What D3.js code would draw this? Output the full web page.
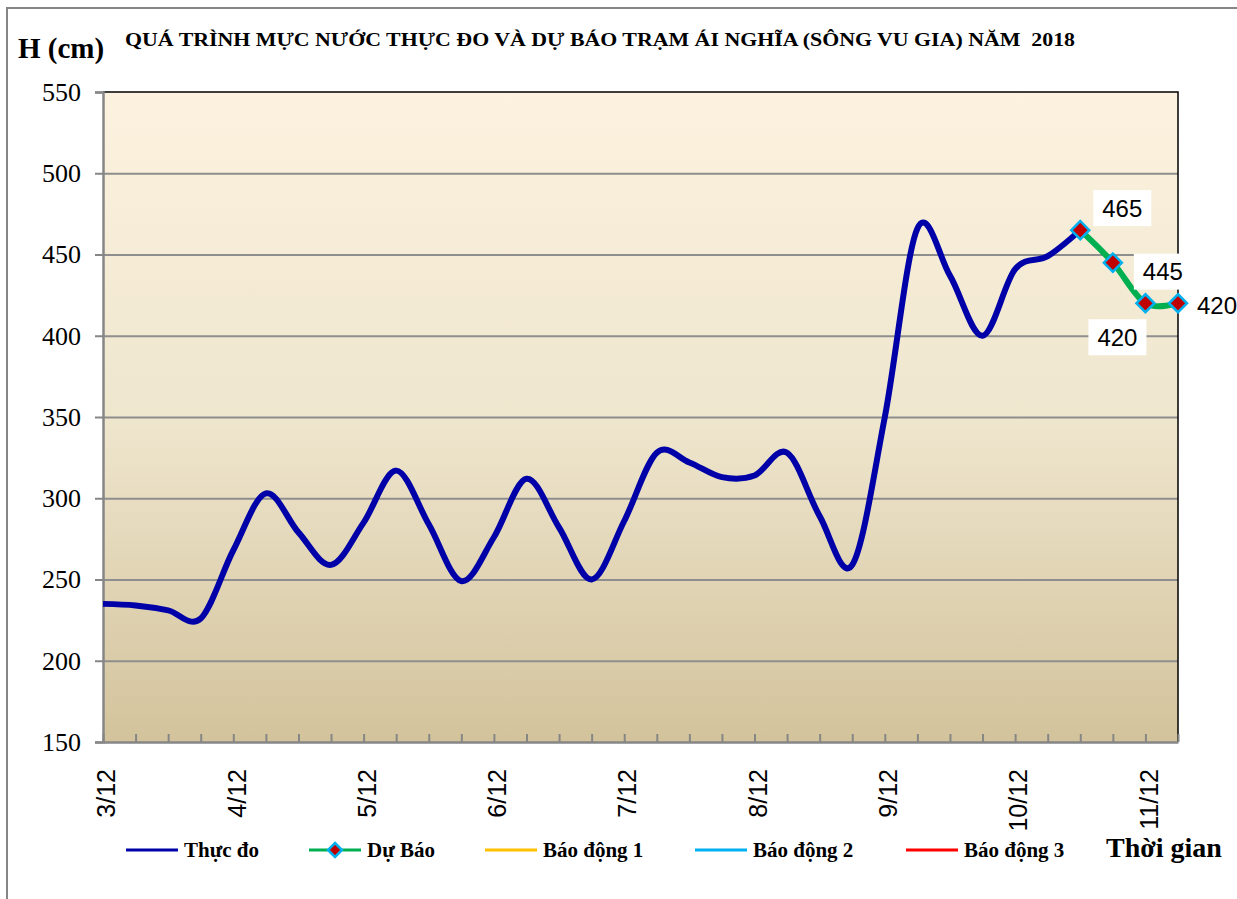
<!DOCTYPE html>
<html>
<head>
<meta charset="utf-8">
<script src="https://cdn.jsdelivr.net/npm/d3@7"></script>
<style>
  body { margin: 0; background: #fff; }
  svg { display: block; }
</style>
</head>
<body>
<svg id="ChartSVG" width="1237" height="899"></svg>
<script>
// time slots every 6 hours, from 00h 3/12 to 06h 11/12
const timeSlots = [
    "00h 3/12", "06h 3/12", "12h 3/12", "18h 3/12",
    "00h 4/12", "06h 4/12", "12h 4/12", "18h 4/12",
    "00h 5/12", "06h 5/12", "12h 5/12", "18h 5/12",
    "00h 6/12", "06h 6/12", "12h 6/12", "18h 6/12",
    "00h 7/12", "06h 7/12", "12h 7/12", "18h 7/12",
    "00h 8/12", "06h 8/12", "12h 8/12", "18h 8/12",
    "00h 9/12", "06h 9/12", "12h 9/12", "18h 9/12",
    "00h 10/12", "06h 10/12", "12h 10/12", "18h 10/12",
    "00h 11/12", "06h 11/12"
];

// measured water level (cm)
const observed = [
    235, 234, 231, 226,
    268, 303, 279, 259,
    285, 317, 284, 249,
    276, 312, 282, 250,
    286, 328, 322, 313,
    314, 328, 289, 259,
    350, 466, 437, 400,
    441, 449, 465
];

// forecast (cm)
const forecastSlots = ["12h 10/12", "18h 10/12", "00h 11/12", "06h 11/12"];
const forecast = [465, 445, 420, 420];

// alarm levels (cm), above the visible range
const alarmNames = ["Báo động 1", "Báo động 2", "Báo động 3"];
const alarmLevels = [800, 900, 1000];
const alarmColors = ["#FFC000", "#00B0F0", "#FF0000"];

const yTicks = [150, 200, 250, 300, 350, 400, 450, 500, 550];

const title = "QUÁ TRÌNH MỰC NƯỚC THỰC ĐO VÀ DỰ BÁO TRẠM ÁI NGHĨA (SÔNG VU GIA) NĂM  2018";

const plotL = 103, plotR = 1178, plotT = 92, plotB = 742;
const serif = "'Liberation Serif', 'Times New Roman', serif";
const sans = "'Liberation Sans', Arial, sans-serif";

const svg = d3.select("#ChartSVG");

const x = d3.scalePoint().domain(timeSlots).range([plotL, plotR]);
const y = d3.scaleLinear().domain([150, 550]).range([plotB, plotT]);

// outer frame
svg.append("rect")
    .attr("x", 7).attr("y", 8)
    .attr("width", 1300).attr("height", 1000)
    .attr("fill", "none")
    .attr("stroke", "#868686")
    .attr("stroke-width", 2);

// plot background
const defs = svg.append("defs");
const grad = defs.append("linearGradient")
    .attr("id", "bg").attr("x1", 0).attr("y1", 0).attr("x2", 0).attr("y2", 1);
grad.append("stop").attr("offset", "0%").attr("stop-color", "#FCF2DF");
grad.append("stop").attr("offset", "50%").attr("stop-color", "#EFE6CE");
grad.append("stop").attr("offset", "100%").attr("stop-color", "#D3C39C");

defs.append("clipPath").attr("id", "plotClip")
    .append("rect")
    .attr("x", plotL).attr("y", plotT)
    .attr("width", plotR - plotL).attr("height", plotB - plotT);

svg.append("rect")
    .attr("x", plotL).attr("y", plotT)
    .attr("width", plotR - plotL).attr("height", plotB - plotT)
    .attr("fill", "url(#bg)");

// gridlines
svg.append("g")
    .attr("transform", `translate(${plotL},0)`)
    .call(d3.axisLeft(y).tickValues(yTicks.slice(1, -1)).tickSize(-(plotR - plotL)).tickFormat(""))
    .call(g => g.select(".domain").remove())
    .call(g => g.selectAll("line").attr("stroke", "#8E8E8E").attr("stroke-width", 2));

// top and right border
svg.append("path")
    .attr("d", `M${plotL},${plotT}H${plotR}V${plotB}`)
    .attr("fill", "none")
    .attr("stroke", "#000")
    .attr("stroke-width", 1.5);

// y axis
svg.append("g")
    .attr("transform", `translate(${plotL},0)`)
    .attr("font-family", serif)
    .call(d3.axisLeft(y).tickValues(yTicks).tickSize(8).tickPadding(14))
    .call(g => g.attr("font-family", serif).attr("font-size", 26))
    .call(g => g.select(".domain").attr("stroke", "#868686").attr("stroke-width", 2.5))
    .call(g => g.selectAll("line").attr("stroke", "#868686").attr("stroke-width", 2))
    .call(g => g.selectAll("text").attr("fill", "#000"));

// x axis, ticks pointing into the plot
svg.append("g")
    .attr("transform", `translate(0,${plotB})`)
    .call(d3.axisBottom(x).tickSize(-8).tickSizeOuter(0)
        .tickFormat(d => d.startsWith("00h") ? d.split(" ")[1] : ""))
    .call(g => g.attr("font-family", sans).attr("font-size", 25))
    .call(g => g.select(".domain").attr("stroke", "#868686").attr("stroke-width", 2.5))
    .call(g => g.selectAll("line").attr("stroke", "#868686").attr("stroke-width", 2))
    .call(g => g.selectAll("text")
        .attr("fill", "#000")
        .attr("text-anchor", "end")
        .attr("transform", "rotate(-90)")
        .attr("x", -27)
        .attr("y", 3)
        .attr("dy", "0.35em"));

const plot = svg.append("g").attr("clip-path", "url(#plotClip)");

// alarm lines (off the visible range)
alarmLevels.forEach((lv, i) => {
    plot.append("line")
        .attr("x1", plotL).attr("x2", plotR)
        .attr("y1", y(lv)).attr("y2", y(lv))
        .attr("stroke", alarmColors[i])
        .attr("stroke-width", 3);
});

const line = d3.line().curve(d3.curveCardinal.tension(0));

// observed line
svg.append("path")
    .attr("d", line(observed.map((v, i) => [x(timeSlots[i]), y(v)])))
    .attr("fill", "none")
    .attr("stroke", "#0000A8")
    .attr("stroke-width", 6)
    .attr("stroke-linejoin", "round");

// forecast line
svg.append("path")
    .attr("d", line(forecast.map((v, i) => [x(forecastSlots[i]), y(v)])))
    .attr("fill", "none")
    .attr("stroke", "#00B050")
    .attr("stroke-width", 6);

const drawDiamond = (g, cx, cy, r) => {
    g.append("path")
        .attr("d", `M${cx},${cy - r}L${cx + r},${cy}L${cx},${cy + r}L${cx - r},${cy}Z`)
        .attr("fill", "#C00000")
        .attr("stroke", "#00B0F0")
        .attr("stroke-width", 2.5);
};

forecast.forEach((v, i) => drawDiamond(svg, x(forecastSlots[i]), y(v), 9));

// data labels
const labelOffsets = [[42, -22], [50, 9], [-28, 34], [39, 2]];
const labelBoxes = [true, true, true, false];
forecast.forEach((v, i) => {
    const cx = x(forecastSlots[i]) + labelOffsets[i][0];
    const cy = y(v) + labelOffsets[i][1];
    if (labelBoxes[i]) {
        svg.append("rect")
            .attr("x", cx - 29).attr("y", cy - 18)
            .attr("width", 58).attr("height", 36)
            .attr("fill", "#fff");
    }
    svg.append("text")
        .attr("x", cx).attr("y", cy)
        .attr("dy", "0.36em")
        .attr("text-anchor", "middle")
        .attr("font-family", sans)
        .attr("font-size", 24)
        .attr("fill", "#000")
        .text(v);
});

// titles
svg.append("text")
    .attr("x", 18).attr("y", 58)
    .attr("font-family", serif)
    .attr("font-weight", "bold")
    .attr("font-size", 29)
    .text("H (cm)");

svg.append("text")
    .attr("x", 125).attr("y", 46)
    .attr("font-family", serif)
    .attr("font-weight", "bold")
    .attr("font-size", 19)
    .attr("textLength", 950)
    .attr("lengthAdjust", "spacingAndGlyphs")
    .style("white-space", "pre")
    .text(title);

svg.append("text")
    .attr("x", 1106).attr("y", 857)
    .attr("font-family", serif)
    .attr("font-weight", "bold")
    .attr("font-size", 28)
    .text("Thời gian");

// legend
const legendY = 850;
const legendItems = [
    {name: "Thực đo", color: "#0000A8", x: 126, marker: false},
    {name: "Dự Báo", color: "#00B050", x: 309, marker: true},
    {name: alarmNames[0], color: alarmColors[0], x: 485, marker: false},
    {name: alarmNames[1], color: alarmColors[1], x: 695, marker: false},
    {name: alarmNames[2], color: alarmColors[2], x: 906, marker: false}
];
const legend = svg.append("g");
legendItems.forEach(it => {
    legend.append("line")
        .attr("x1", it.x).attr("x2", it.x + 52)
        .attr("y1", legendY).attr("y2", legendY)
        .attr("stroke", it.color)
        .attr("stroke-width", 3);
    if (it.marker) drawDiamond(legend, it.x + 26, legendY, 7);
    legend.append("text")
        .attr("x", it.x + 58).attr("y", legendY + 7)
        .attr("font-family", serif)
        .attr("font-weight", "bold")
        .attr("font-size", 21)
        .text(it.name);
});
</script>
</body>
</html>
